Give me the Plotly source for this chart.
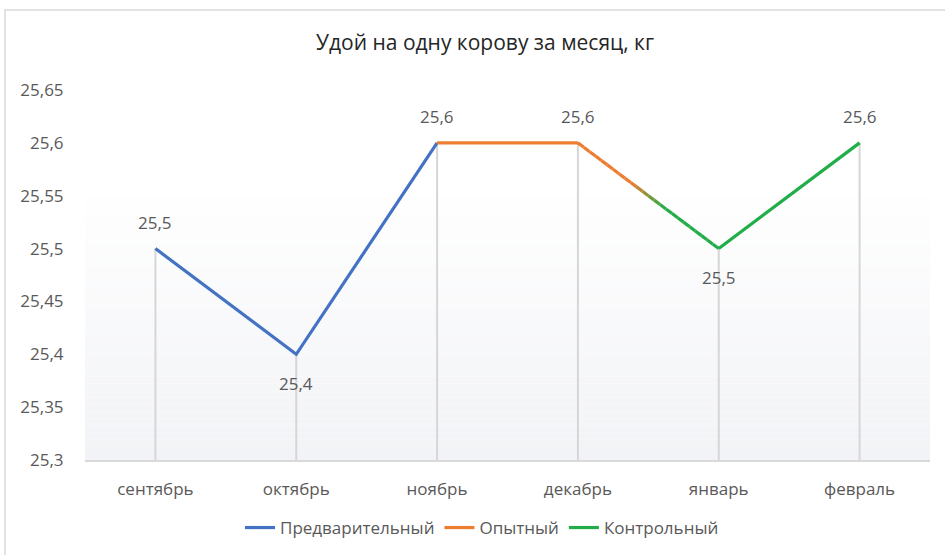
import plotly.graph_objects as go

# ---- data ----
months = ["сентябрь", "октябрь", "ноябрь", "декабрь", "январь", "февраль"]
milk_yield = [25.5, 25.4, 25.6, 25.6, 25.5, 25.6]
series_names = ["Предварительный", "Опытный", "Контрольный"]
# index ranges (into months) for each period
period_blue = [0, 1, 2]
period_orange = [2, 3]
period_green = [4, 5]
label_side = ["above", "below", "above", "above", "below", "above"]

title_text = "Удой на одну корову за месяц, кг"

# ---- style ----
C_BLUE = "#4472C4"
C_ORANGE = "#ED7D31"
C_GREEN = "#21AD47"
FONT = "Open Sans"
GRAY_TXT = "#595959"
Y_MIN, Y_MAX = 25.3, 25.65

fig = go.Figure()

# background gradient (white -> light gray) inside plot area
n_bands = 40
top_frac = 0.75
for k in range(n_bands):
    f0 = top_frac * k / n_bands
    f1 = top_frac * (k + 1) / n_bands
    t = k / (n_bands - 1)  # 0 bottom -> 1 top
    r = round(242 + (255 - 242) * t)
    g = round(243 + (255 - 243) * t)
    b = round(246 + (255 - 246) * t)
    fig.add_shape(type="rect", xref="paper", yref="paper", x0=0, x1=1, y0=f0, y1=f1,
                  fillcolor=f"rgb({r},{g},{b})", line_width=0, layer="below")

# drop lines from each point to the axis
dx, dy = [], []
for i, v in enumerate(milk_yield):
    dx += [i, i, None]
    dy += [Y_MIN, v, None]
fig.add_trace(go.Scatter(x=dx, y=dy, mode="lines", showlegend=False, hoverinfo="skip",
                         line=dict(color="#d6d6d6", width=2)))

def add_series(idx, name, color):
    fig.add_trace(go.Scatter(x=idx, y=[milk_yield[i] for i in idx], mode="lines",
                             name=name, line=dict(color=color, width=3.2)))

# connecting segment december -> january drawn with an orange->green gradient
def hex2rgb(h):
    h = h.lstrip("#")
    return tuple(int(h[j:j + 2], 16) for j in (0, 2, 4))

a_i, b_i = period_orange[-1], period_green[0]
ya, yb = milk_yield[a_i], milk_yield[b_i]
co, cg = hex2rgb(C_ORANGE), hex2rgb(C_GREEN)
n_seg = 24
for k in range(n_seg):
    t0, t1 = k / n_seg, (k + 1) / n_seg
    tm = (t0 + t1) / 2
    w = min(max((tm - 0.38) / 0.24, 0), 1)
    col = tuple(round(co[j] + (cg[j] - co[j]) * w) for j in range(3))
    fig.add_trace(go.Scatter(x=[a_i + (b_i - a_i) * t0, a_i + (b_i - a_i) * t1],
                             y=[ya + (yb - ya) * t0, ya + (yb - ya) * t1],
                             mode="lines", showlegend=False, hoverinfo="skip",
                             line=dict(color=f"rgb{col}", width=3.2)))

add_series(period_blue, series_names[0], C_BLUE)
add_series(period_orange, series_names[1], C_ORANGE)
add_series(period_green, series_names[2], C_GREEN)

# data labels
for i, v in enumerate(milk_yield):
    fig.add_annotation(x=i, y=v, text=f"{v:.1f}".replace(".", ","), showarrow=False,
                       yshift=26 if label_side[i] == "above" else -29,
                       font=dict(family=FONT, size=17, color=GRAY_TXT))

# chart border
fig.add_shape(type="rect", xref="paper", yref="paper",
              x0=(5 - 85) / 845, x1=1.1, y0=-0.5, y1=(460 - 10) / 370,
              line=dict(color="#d9d9d9", width=1.5), fillcolor="rgba(0,0,0,0)", layer="below")

fig.update_layout(
    width=945, height=555,
    margin=dict(l=85, r=15, t=90, b=95, autoexpand=False),
    paper_bgcolor="white", plot_bgcolor="white",
    separators=", ",
    font=dict(family=FONT, size=17, color=GRAY_TXT),
    title=dict(text=title_text, x=485 / 945, xanchor="center", xref="container",
               y=1 - 43 / 555, yanchor="middle", yref="container",
               font=dict(family=FONT, size=21, color="#262626")),
    showlegend=True,
    legend=dict(orientation="h", x=482 / 945, xref="container", xanchor="center",
                y=(460 - 528) / 370, yanchor="middle", font=dict(size=17, color=GRAY_TXT),
                bgcolor="rgba(0,0,0,0)", traceorder="normal"),
    xaxis=dict(range=[-0.5, len(months) - 0.5], tickvals=list(range(len(months))),
               ticktext=months, tickangle=0, showgrid=False, zeroline=False, showline=True,
               linecolor="#d9d9d9", linewidth=1.5, ticks="outside", ticklen=13,
               tickcolor="rgba(0,0,0,0)", tickfont=dict(size=17, color=GRAY_TXT)),
    yaxis=dict(range=[Y_MIN, Y_MAX], dtick=0.05, tick0=Y_MIN, tickformat=".2~f",
               showgrid=False, zeroline=False, showline=False,
               ticks="outside", ticklen=17, tickcolor="rgba(0,0,0,0)",
               tickfont=dict(size=17, color=GRAY_TXT)),
)

fig.write_html("out.html", config={"displayModeBar": False},
               post_script="document.body.style.margin='0';")
